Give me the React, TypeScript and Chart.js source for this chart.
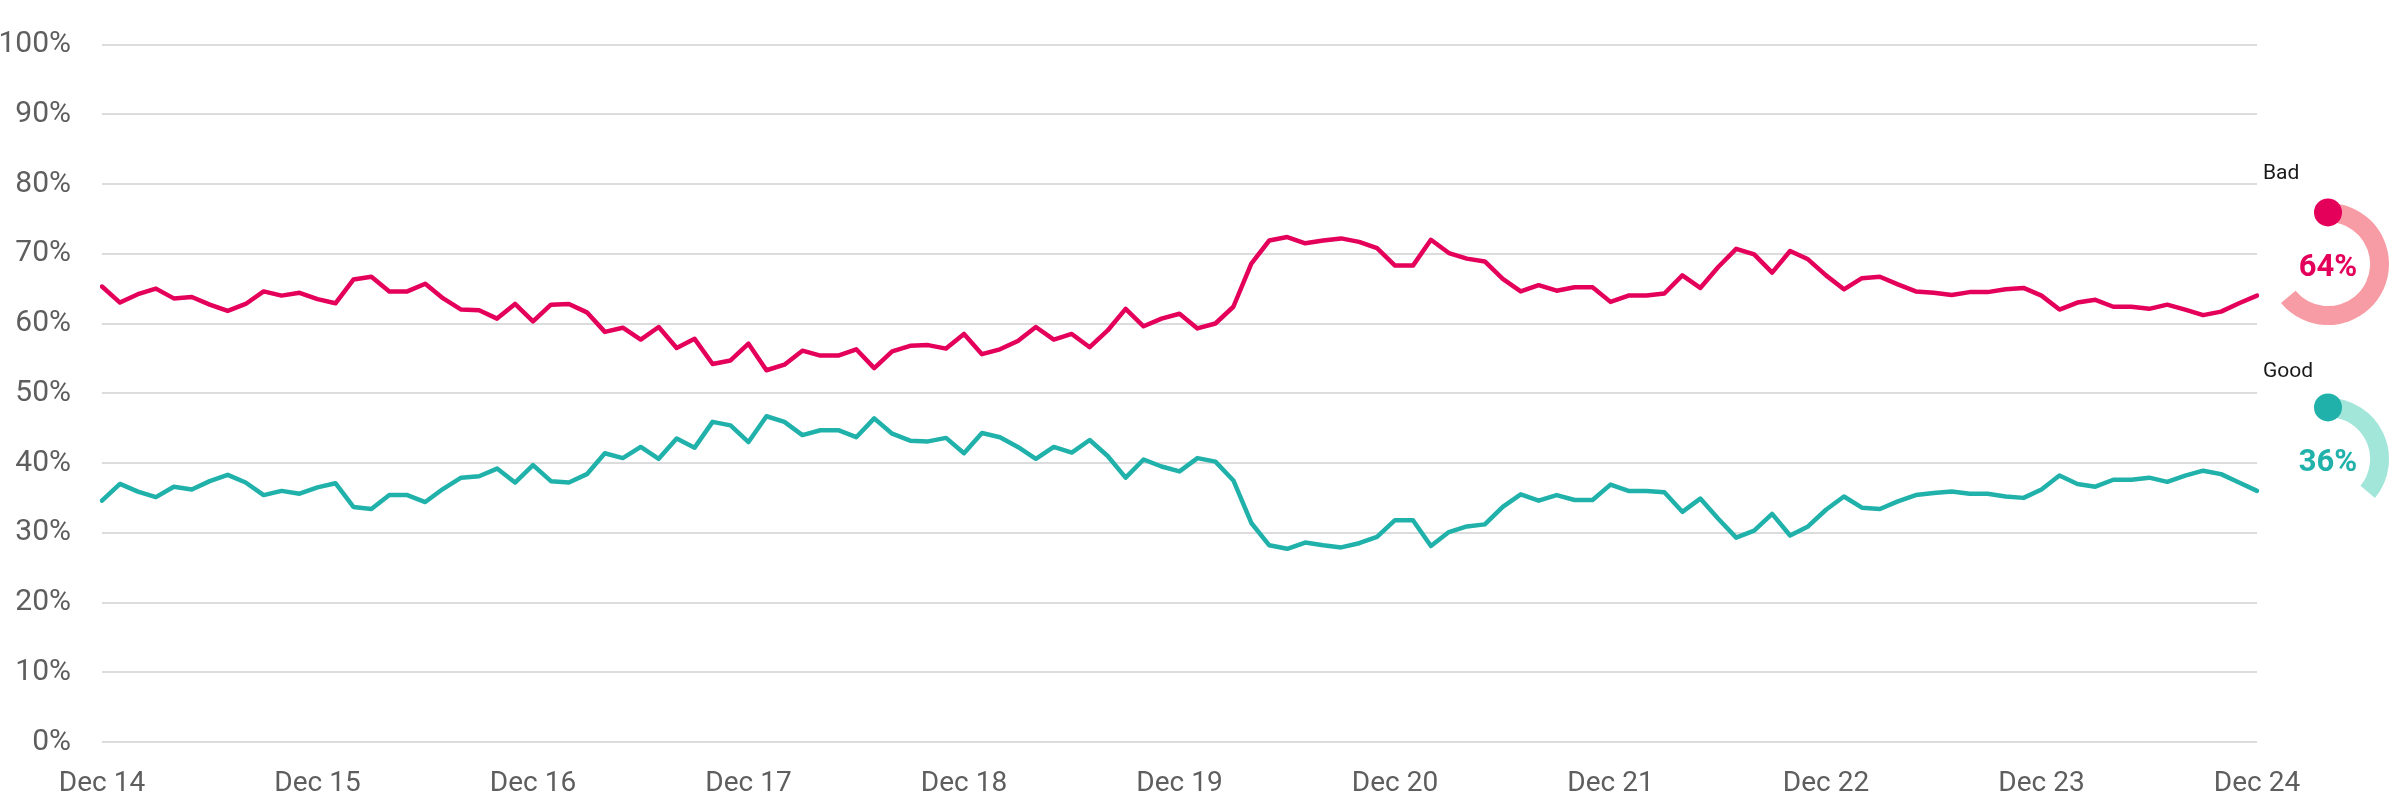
import React, { useEffect, useRef } from 'react';
import { Chart, registerables } from 'chart.js';

Chart.register(...registerables);

// ---------- data ----------
const MONTH_NAMES = ['Jan', 'Feb', 'Mar', 'Apr', 'May', 'Jun', 'Jul', 'Aug', 'Sep', 'Oct', 'Nov', 'Dec'];
const FIRST_MONTH = 11; // December
const FIRST_YEAR = 14;
const POINT_COUNT = 121;

const categories: string[] = Array.from({ length: POINT_COUNT }, (_, i) => {
  const m = (FIRST_MONTH + i) % 12;
  const y = FIRST_YEAR + Math.floor((FIRST_MONTH + i) / 12);
  return `${MONTH_NAMES[m]} ${y}`;
});

const badValues: number[] = [
  65.3, 63.0, 64.2, 65.0, 63.6, 63.8, 62.7, 61.8, 62.8, 64.6,
  64.0, 64.4, 63.5, 62.9, 66.3, 66.7, 64.6, 64.6, 65.7, 63.6,
  62.0, 61.9, 60.7, 62.8, 60.3, 62.7, 62.8, 61.6, 58.8, 59.4,
  57.7, 59.5, 56.5, 57.8, 54.2, 54.7, 57.1, 53.3, 54.1, 56.1,
  55.4, 55.4, 56.3, 53.6, 56.0, 56.8, 56.9, 56.4, 58.5, 55.6,
  56.3, 57.5, 59.5, 57.7, 58.5, 56.6, 59.0, 62.1, 59.6, 60.7,
  61.4, 59.3, 60.0, 62.4, 68.6, 71.9, 72.4, 71.5, 71.9, 72.2,
  71.7, 70.8, 68.3, 68.3, 72.0, 70.1, 69.3, 68.9, 66.4, 64.6,
  65.5, 64.7, 65.2, 65.2, 63.1, 64.0, 64.0, 64.3, 66.9, 65.1,
  68.1, 70.7, 69.9, 67.3, 70.4, 69.2, 66.9, 64.9, 66.5, 66.7,
  65.6, 64.6, 64.4, 64.1, 64.5, 64.5, 64.9, 65.1, 64.0, 62.0,
  63.0, 63.4, 62.4, 62.4, 62.1, 62.7, 62.0, 61.2, 61.7, 62.9,
  64.0,
];

const goodValues: number[] = [
  34.6, 37.0, 35.9, 35.1, 36.6, 36.2, 37.4, 38.3, 37.2, 35.4,
  36.0, 35.6, 36.5, 37.1, 33.7, 33.4, 35.4, 35.4, 34.4, 36.3,
  37.9, 38.1, 39.2, 37.2, 39.7, 37.4, 37.2, 38.4, 41.4, 40.7,
  42.3, 40.6, 43.5, 42.2, 45.9, 45.4, 43.0, 46.7, 45.9, 44.0,
  44.7, 44.7, 43.7, 46.4, 44.2, 43.2, 43.1, 43.6, 41.4, 44.3,
  43.7, 42.3, 40.6, 42.3, 41.5, 43.3, 41.0, 37.9, 40.5, 39.5,
  38.8, 40.7, 40.2, 37.5, 31.4, 28.2, 27.7, 28.6, 28.2, 27.9,
  28.5, 29.4, 31.8, 31.8, 28.1, 30.1, 30.9, 31.2, 33.7, 35.5,
  34.6, 35.4, 34.7, 34.7, 36.9, 36.0, 36.0, 35.8, 33.0, 34.9,
  32.0, 29.3, 30.3, 32.7, 29.6, 30.9, 33.3, 35.2, 33.6, 33.4,
  34.5, 35.4, 35.7, 35.9, 35.6, 35.6, 35.2, 35.0, 36.2, 38.2,
  37.0, 36.6, 37.6, 37.6, 37.9, 37.3, 38.2, 38.9, 38.4, 37.2,
  36.0,
];

const Y_TICK_STEP = 10;
const SERIES_NAMES = ['Bad', 'Good'];

// ---------- styles ----------
const W = 2389;
const H = 800;
const BAD_COLOR = '#E4005A';
const BAD_LIGHT = '#F79BA4';
const GOOD_COLOR = '#20B2AA';
const GOOD_LIGHT = '#A2E6DA';
const TICK_COLOR = '#5e5e5e';
const GRID_COLOR = '#dcdcdc';
const FONT = 'Roboto';
const LINE_W = 4.5;

function LineChart() {
  const ref = useRef<HTMLCanvasElement | null>(null);
  useEffect(() => {
    if (!ref.current) return;
    const chart = new Chart(ref.current, {
      type: 'line',
      data: {
        labels: categories,
        datasets: [
          {
            label: SERIES_NAMES[1],
            data: goodValues,
            borderColor: GOOD_COLOR,
            backgroundColor: GOOD_COLOR,
            borderWidth: LINE_W,
            pointRadius: 0,
            tension: 0,
            fill: false,
            borderJoinStyle: 'round',
            borderCapStyle: 'round',
          },
          {
            label: SERIES_NAMES[0],
            data: badValues,
            borderColor: BAD_COLOR,
            backgroundColor: BAD_COLOR,
            borderWidth: LINE_W,
            pointRadius: 0,
            tension: 0,
            fill: false,
            borderJoinStyle: 'round',
            borderCapStyle: 'round',
          },
        ],
      },
      options: {
        responsive: false,
        animation: false,
        events: [],
        layout: { padding: { top: 14.5, right: 132, left: 0, bottom: 0 } },
        plugins: { legend: { display: false }, tooltip: { enabled: false } },
        scales: {
          x: {
            grid: { display: false, drawTicks: false },
            border: { display: false },
            ticks: {
              autoSkip: false,
              maxRotation: 0,
              minRotation: 0,
              padding: 28,
              color: TICK_COLOR,
              font: { family: FONT, size: 28, lineHeight: 1 },
              callback: (_v: any, i: number) => (categories[i].startsWith('Dec') ? categories[i] : ''),
            },
            afterFit: (s: any) => {
              s.height = 58;
            },
          },
          y: {
            min: 0,
            max: 100,
            grid: { color: GRID_COLOR, lineWidth: 2, drawTicks: false },
            border: { display: false },
            ticks: {
              stepSize: Y_TICK_STEP,
              padding: 31,
              color: TICK_COLOR,
              font: { family: FONT, size: 30, lineHeight: 0.9 },
              callback: (v: any) => `${v}%`,
            },
            afterFit: (s: any) => {
              s.width = 102;
            },
          },
        },
      },
    } as any);
    return () => chart.destroy();
  }, []);
  return (
    <canvas
      ref={ref}
      width={W}
      height={H}
      style={{ position: 'absolute', left: 0, top: 0, width: W, height: H }}
    />
  );
}

type GaugeProps = {
  name: string;
  values: number[];
  color: string;
  light: string;
  cx: number;
  cy: number;
  labelTop: number;
};

const G_SIZE = 132;

function Gauge({ name, values, color, light, cx, cy, labelTop }: GaugeProps) {
  const ref = useRef<HTMLCanvasElement | null>(null);
  const latest = Math.round(values[values.length - 1]);
  useEffect(() => {
    if (!ref.current) return;
    const centerPlugin = {
      id: 'gaugeDecor',
      afterDatasetsDraw(chart: any) {
        const arc = chart.getDatasetMeta(0).data[0];
        if (!arc) return;
        const { x, y, startAngle, innerRadius, outerRadius } = arc.getProps(
          ['x', 'y', 'startAngle', 'innerRadius', 'outerRadius'],
          true
        );
        const mid = (innerRadius + outerRadius) / 2;
        const ctx = chart.ctx;
        ctx.save();
        ctx.fillStyle = color;
        ctx.beginPath();
        ctx.arc(x + Math.cos(startAngle) * mid, y + Math.sin(startAngle) * mid, 14, 0, Math.PI * 2);
        ctx.fill();
        ctx.font = `bold 31px ${FONT}`;
        ctx.textAlign = 'center';
        ctx.textBaseline = 'alphabetic';
        ctx.fillText(`${latest}%`, x, y + 11.5);
        ctx.restore();
      },
    };
    const chart = new Chart(ref.current, {
      type: 'doughnut',
      data: {
        labels: [name, ''],
        datasets: [
          {
            data: [latest, 100 - latest],
            backgroundColor: [light, 'rgba(0,0,0,0)'],
            borderWidth: 0,
            hoverOffset: 0,
          },
        ],
      },
      options: {
        responsive: false,
        animation: false,
        events: [],
        cutout: '69%',
        rotation: 0,
        circumference: 360,
        layout: { padding: 5 },
        plugins: { legend: { display: false }, tooltip: { enabled: false } },
      },
      plugins: [centerPlugin],
    } as any);
    return () => chart.destroy();
  }, []);
  return (
    <>
      <div
        style={{
          position: 'absolute',
          left: 2263,
          top: labelTop,
          fontFamily: FONT,
          fontSize: 21,
          lineHeight: 1,
          color: '#1a1a1a',
          whiteSpace: 'nowrap',
        }}
      >
        {name}
      </div>
      <canvas
        ref={ref}
        width={G_SIZE}
        height={G_SIZE}
        style={{
          position: 'absolute',
          left: cx - G_SIZE / 2,
          top: cy - G_SIZE / 2,
          width: G_SIZE,
          height: G_SIZE,
        }}
      />
    </>
  );
}

export default function App() {
  return (
    <div
      style={{
        position: 'absolute',
        left: 0,
        top: 0,
        width: W,
        height: H,
        overflow: 'hidden',
        background: '#ffffff',
      }}
    >
      <LineChart />
      <Gauge
        name={SERIES_NAMES[0]}
        values={badValues}
        color={BAD_COLOR}
        light={BAD_LIGHT}
        cx={2328}
        cy={264}
        labelTop={162}
      />
      <Gauge
        name={SERIES_NAMES[1]}
        values={goodValues}
        color={GOOD_COLOR}
        light={GOOD_LIGHT}
        cx={2328}
        cy={459}
        labelTop={360}
      />
    </div>
  );
}
